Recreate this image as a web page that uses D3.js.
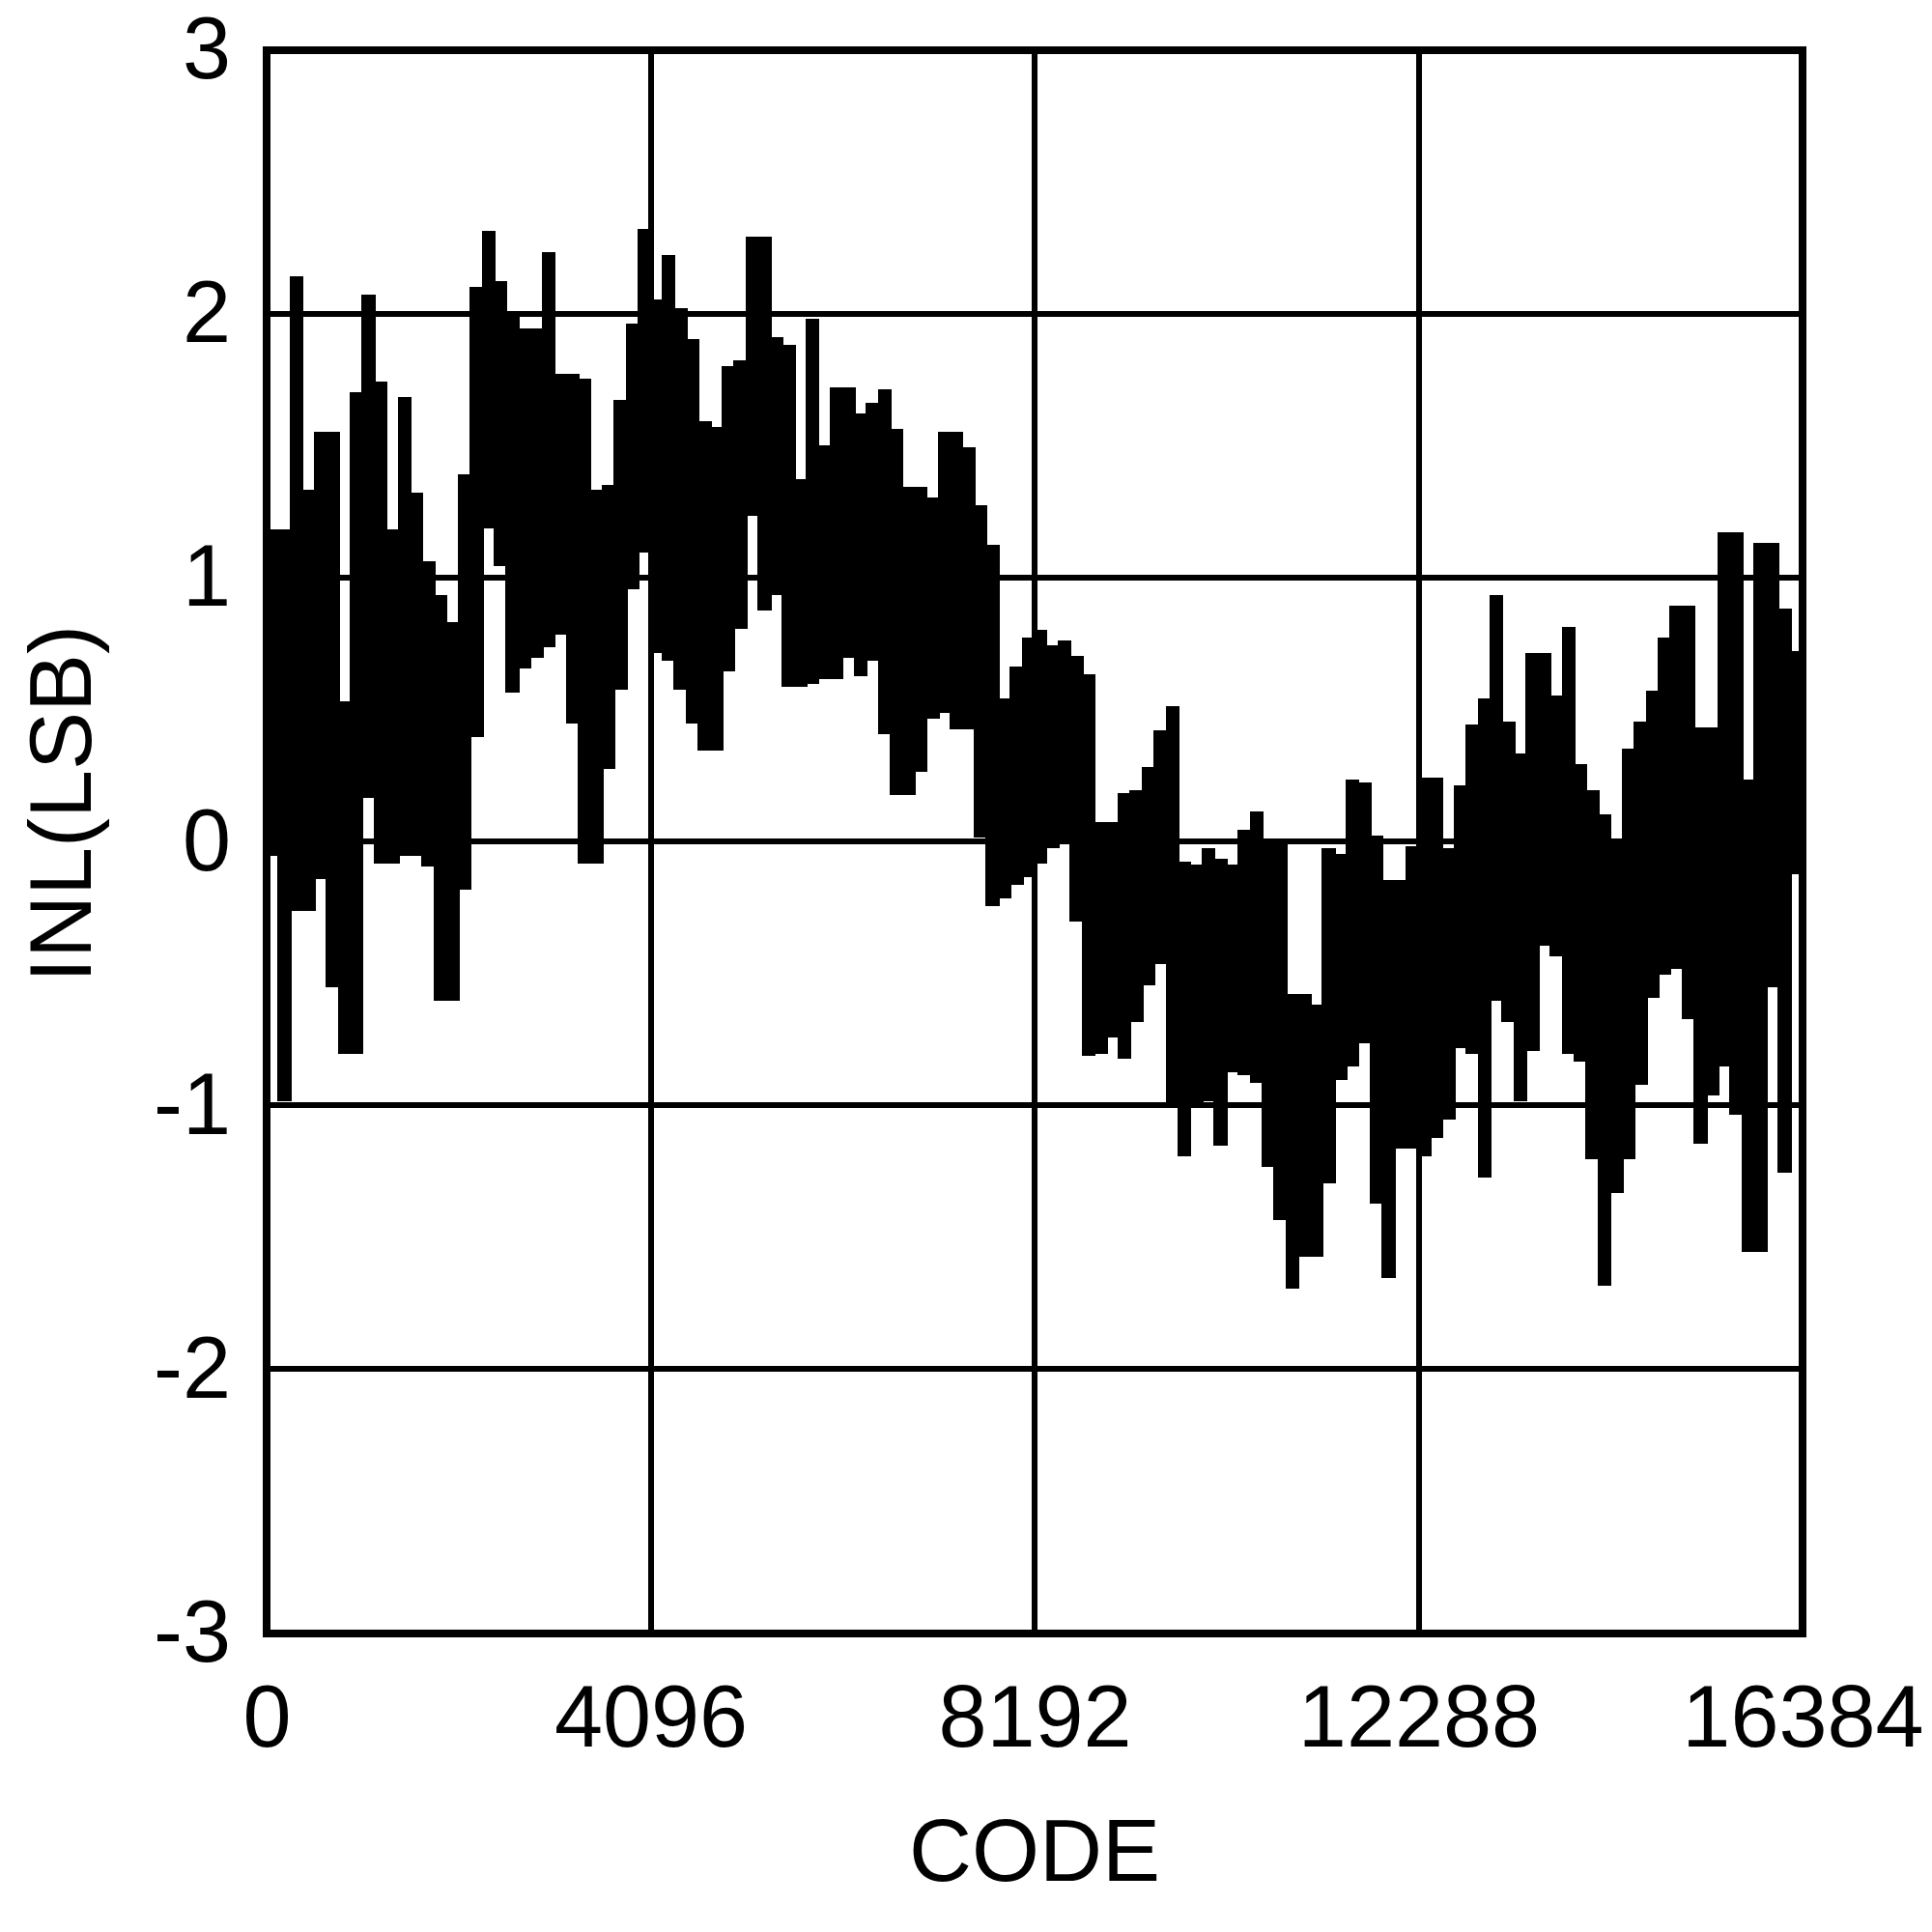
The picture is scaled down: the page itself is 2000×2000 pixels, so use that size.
<!DOCTYPE html>
<html>
<head>
<meta charset="utf-8">
<script src="https://cdn.jsdelivr.net/npm/d3@7"></script>
<style>
  html, body { margin: 0; padding: 0; background: #fff; }
  svg { display: block; }
  text { font-family: Arial, "Liberation Sans", Helvetica, sans-serif; fill: #000; }
</style>
</head>
<body>
<svg id="chart" width="2000" height="2000"></svg>
<script>
// ---- data (INL envelope per 128-code bin) ----
const binWidth = 128;
const codeMax = 16384;
const codes = d3.range(0, codeMax, binWidth); // bin start codes (128 bins)

const inlUpper = [
  1.18, 1.18, 2.14, 1.33, 1.55, 1.55, 0.53, 1.70, 2.07, 1.74,
  1.18, 1.68, 1.32, 1.06, 0.93, 0.83, 1.39, 2.10, 2.31, 2.12,
  2.00, 1.94, 1.94, 2.23, 1.77, 1.77, 1.75, 1.33, 1.35, 1.67,
  1.96, 2.32, 2.05, 2.22, 2.02, 1.90, 1.59, 1.57, 1.80, 1.82,
  2.29, 2.29, 1.91, 1.88, 1.37, 1.98, 1.50, 1.72, 1.72, 1.62,
  1.66, 1.71, 1.56, 1.34, 1.34, 1.30, 1.55, 1.55, 1.49, 1.27,
  1.12, 0.54, 0.66, 0.77, 0.80, 0.74, 0.76, 0.70, 0.63, 0.07,
  0.07, 0.18, 0.19, 0.28, 0.42, 0.51, -0.08, -0.09, -0.03, -0.07,
  -0.09, 0.04, 0.11, 0.00, 0.00, -0.58, -0.58, -0.62, -0.03, -0.05,
  0.23, 0.22, 0.02, -0.15, -0.15, -0.02, 0.24, 0.24, -0.03, 0.21,
  0.44, 0.54, 0.93, 0.45, 0.33, 0.71, 0.71, 0.55, 0.81, 0.29,
  0.19, 0.10, 0.00, 0.35, 0.45, 0.57, 0.77, 0.89, 0.89, 0.43,
  0.43, 1.17, 1.17, 0.23, 1.13, 1.13, 0.88, 0.72
];

const inlLower = [
  -0.05, -0.98, -0.26, -0.26, -0.14, -0.55, -0.80, -0.80, 0.17, -0.08,
  -0.08, -0.05, -0.05, -0.09, -0.60, -0.60, -0.18, 0.40, 1.19, 1.05,
  0.57, 0.66, 0.70, 0.74, 0.79, 0.45, -0.08, -0.08, 0.28, 0.58,
  0.96, 1.10, 0.72, 0.69, 0.58, 0.45, 0.35, 0.35, 0.65, 0.81,
  1.24, 0.88, 0.94, 0.59, 0.59, 0.60, 0.62, 0.62, 0.70, 0.63,
  0.69, 0.41, 0.18, 0.18, 0.27, 0.47, 0.49, 0.43, 0.43, 0.02,
  -0.24, -0.21, -0.16, -0.13, -0.08, -0.02, 0.00, -0.30, -0.81, -0.80,
  -0.74, -0.82, -0.68, -0.54, -0.46, -1.00, -1.19, -0.99, -0.98, -1.15,
  -0.87, -0.88, -0.91, -1.23, -1.43, -1.69, -1.57, -1.57, -1.29, -0.90,
  -0.85, -0.76, -1.37, -1.65, -1.16, -1.16, -1.19, -1.12, -1.05, -0.78,
  -0.80, -1.27, -0.60, -0.68, -0.98, -0.79, -0.39, -0.43, -0.80, -0.83,
  -1.20, -1.68, -1.33, -1.20, -0.92, -0.59, -0.50, -0.48, -0.67, -1.14,
  -0.96, -0.85, -1.03, -1.55, -1.55, -0.55, -1.25, -0.12
];

const xTicks = [0, 4096, 8192, 12288, 16384];
const yTicks = [-3, -2, -1, 0, 1, 2, 3];
const xTitle = "CODE";
const yTitle = "INL(LSB)";

// ---- layout ----
const plot = { left: 276, right: 1866, top: 52, bottom: 1690.5 };
const svg = d3.select("#chart");
svg.append("rect").attr("width", 2000).attr("height", 2000).attr("fill", "#fff");

const x = d3.scaleLinear().domain([0, codeMax]).range([plot.left, plot.right]);
const y = d3.scaleLinear().domain([-3, 3]).range([plot.bottom, plot.top]);

// gridlines
const grid = svg.append("g").attr("stroke", "#000").attr("stroke-width", 6)
  .attr("shape-rendering", "crispEdges");
grid.selectAll("line.v").data(xTicks.slice(1, -1)).join("line")
  .attr("x1", d => x(d)).attr("x2", d => x(d))
  .attr("y1", plot.top).attr("y2", plot.bottom);
grid.selectAll("line.h").data(yTicks.slice(1, -1)).join("line")
  .attr("x1", plot.left).attr("x2", plot.right)
  .attr("y1", d => y(d)).attr("y2", d => y(d));

// data band
const pts = codes.map((c, i) => ({ code: c, hi: inlUpper[i], lo: inlLower[i] }));
pts.push({ code: codeMax, hi: inlUpper[inlUpper.length - 1], lo: inlLower[inlLower.length - 1] });

const area = d3.area()
  .x(d => x(d.code))
  .y0(d => y(d.lo))
  .y1(d => y(d.hi))
  .curve(d3.curveStepAfter);

svg.append("path")
  .datum(pts)
  .attr("d", area)
  .attr("fill", "#000")
  .attr("stroke", "#000")
  .attr("stroke-width", 2)
  .attr("shape-rendering", "crispEdges");

// frame
svg.append("rect")
  .attr("x", plot.left).attr("y", plot.top)
  .attr("width", plot.right - plot.left).attr("height", plot.bottom - plot.top)
  .attr("fill", "none").attr("stroke", "#000").attr("stroke-width", 8)
  .attr("shape-rendering", "crispEdges");

// axes labels
const fontSize = 90;
const xAxis = d3.axisBottom(x).tickValues(xTicks).tickSize(0).tickPadding(54)
  .tickFormat(d => String(d));
const gx = svg.append("g").attr("transform", `translate(0,${plot.bottom})`).call(xAxis);
gx.select(".domain").remove();
gx.selectAll("text").attr("font-size", fontSize).attr("font-family", "Arial, 'Liberation Sans', sans-serif").attr("fill", "#000");

const yAxis = d3.axisLeft(y).tickValues(yTicks).tickSize(0).tickPadding(37)
  .tickFormat(d => String(d));
const gy = svg.append("g").attr("transform", `translate(${plot.left},0)`).call(yAxis);
gy.select(".domain").remove();
gy.selectAll("text").attr("font-size", fontSize).attr("font-family", "Arial, 'Liberation Sans', sans-serif").attr("fill", "#000");

// titles
svg.append("text")
  .attr("x", (plot.left + plot.right) / 2)
  .attr("y", 1947)
  .attr("text-anchor", "middle")
  .attr("font-size", fontSize)
  .text(xTitle);

svg.append("text")
  .attr("transform", "translate(94,832) rotate(-90)")
  .attr("text-anchor", "middle")
  .attr("font-size", fontSize)
  .text(yTitle);
</script>
</body>
</html>
